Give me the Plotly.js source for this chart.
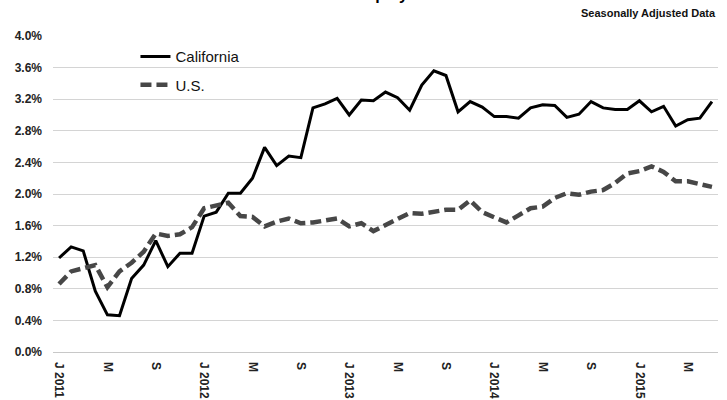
<!DOCTYPE html>
<html>
<head>
<meta charset="utf-8">
<script src="https://cdn.plot.ly/plotly-3.0.1.min.js"></script>
<style>html,body{margin:0;padding:0;background:#fff;}#chart{width:727px;height:400px;}</style>
</head>
<body>
<div id="chart"></div>
<script>
const months = [
  "2011-01","2011-02","2011-03","2011-04","2011-05","2011-06","2011-07","2011-08","2011-09","2011-10","2011-11","2011-12",
  "2012-01","2012-02","2012-03","2012-04","2012-05","2012-06","2012-07","2012-08","2012-09","2012-10","2012-11","2012-12",
  "2013-01","2013-02","2013-03","2013-04","2013-05","2013-06","2013-07","2013-08","2013-09","2013-10","2013-11","2013-12",
  "2014-01","2014-02","2014-03","2014-04","2014-05","2014-06","2014-07","2014-08","2014-09","2014-10","2014-11","2014-12",
  "2015-01","2015-02","2015-03","2015-04","2015-05","2015-06","2015-07"
];
const california = [
  1.19,1.33,1.28,0.77,0.47,0.46,0.93,1.10,1.41,1.08,1.25,1.25,
  1.72,1.77,2.01,2.01,2.20,2.59,2.36,2.48,2.46,3.09,3.14,3.21,
  3.00,3.19,3.18,3.29,3.22,3.06,3.38,3.56,3.50,3.04,3.17,3.10,
  2.98,2.98,2.96,3.09,3.13,3.12,2.97,3.01,3.17,3.09,3.07,3.07,
  3.18,3.04,3.11,2.86,2.94,2.96,3.17
];
const us = [
  0.86,1.02,1.06,1.10,0.82,1.02,1.13,1.27,1.50,1.47,1.49,1.58,
  1.82,1.86,1.89,1.72,1.71,1.59,1.65,1.69,1.63,1.64,1.66,1.69,
  1.59,1.63,1.53,1.61,1.68,1.76,1.75,1.78,1.80,1.80,1.92,1.77,
  1.71,1.64,1.73,1.82,1.84,1.95,2.01,1.99,2.03,2.05,2.14,2.26,
  2.29,2.35,2.28,2.16,2.16,2.13,2.09
];
const tickMonths = ["2011-01","2011-05","2011-09","2012-01","2012-05","2012-09","2013-01","2013-05","2013-09","2014-01","2014-05","2014-09","2015-01","2015-05"];
const tickLabels = ["J 2011","M","S","J 2012","M","S","J 2013","M","S","J 2014","M","S","J 2015","M"];
const yTicks = [0,0.4,0.8,1.2,1.6,2.0,2.4,2.8,3.2,3.6,4.0];
const yTickLabels = ["0.0%","0.4%","0.8%","1.2%","1.6%","2.0%","2.4%","2.8%","3.2%","3.6%","4.0%"];
const titleText = "Nonfarm Employment";
const subtitleText = "Seasonally Adjusted Data";

const FONT = "Liberation Sans, Arial, sans-serif";

const traces = [
  {x: months, y: california, type: "scatter", mode: "lines", name: "California",
   line: {color: "#000000", width: 3}, legend: "legend"},
  {x: months, y: us, type: "scatter", mode: "lines", name: "U.S.",
   line: {color: "#474747", width: 4.5, dash: "11px,5px"}, legend: "legend2"}
];

const layout = {
  width: 727, height: 400,
  margin: {l: 53, r: 9, t: 36, b: 48},
  paper_bgcolor: "#ffffff", plot_bgcolor: "#ffffff",
  font: {family: FONT, color: "#222222"},
  showlegend: true,
  legend: {x: 0.124, y: 0.934, xanchor: "left", yanchor: "middle", bgcolor: "rgba(0,0,0,0)",
           font: {family: FONT, size: 15, color: "#111111"}},
  legend2: {x: 0.124, y: 0.845, xanchor: "left", yanchor: "middle", bgcolor: "rgba(0,0,0,0)",
           font: {family: FONT, size: 15, color: "#111111"}},
  xaxis: {
    type: "category", range: [-0.5, months.length - 0.5],
    tickmode: "array", tickvals: tickMonths, ticktext: tickLabels,
    tickangle: 90, ticks: "", showgrid: false, zeroline: false,
    showline: false, ticklabelstandoff: 9,
    tickfont: {family: FONT, size: 12, color: "#222222", weight: "bold"}
  },
  yaxis: {
    range: [0, 4.0], tickmode: "array", tickvals: yTicks, ticktext: yTickLabels,
    ticks: "",
    showgrid: true, gridcolor: "#d4d4d4", gridwidth: 1,
    zeroline: true, zerolinecolor: "#c8c8c8", zerolinewidth: 1,
    showline: false, ticklabelstandoff: 10,
    tickfont: {family: FONT, size: 12, color: "#222222", weight: "bold"}
  },
  annotations: [
    {text: "<b>" + titleText + "</b>", xref: "paper", yref: "paper", x: 0.467, y: 1,
     xanchor: "center", yanchor: "bottom", yshift: 31, showarrow: false,
     font: {family: FONT, size: 16, color: "#000000"}},
    {text: "<b>" + subtitleText + "</b>", xref: "paper", yref: "paper", x: 1.0, y: 1,
     xanchor: "right", yanchor: "bottom", yshift: 15, showarrow: false,
     font: {family: FONT, size: 11, color: "#111111"}}
  ]
};

Plotly.newPlot("chart", traces, layout, {displayModeBar: false, staticPlot: true});
</script>
</body>
</html>
